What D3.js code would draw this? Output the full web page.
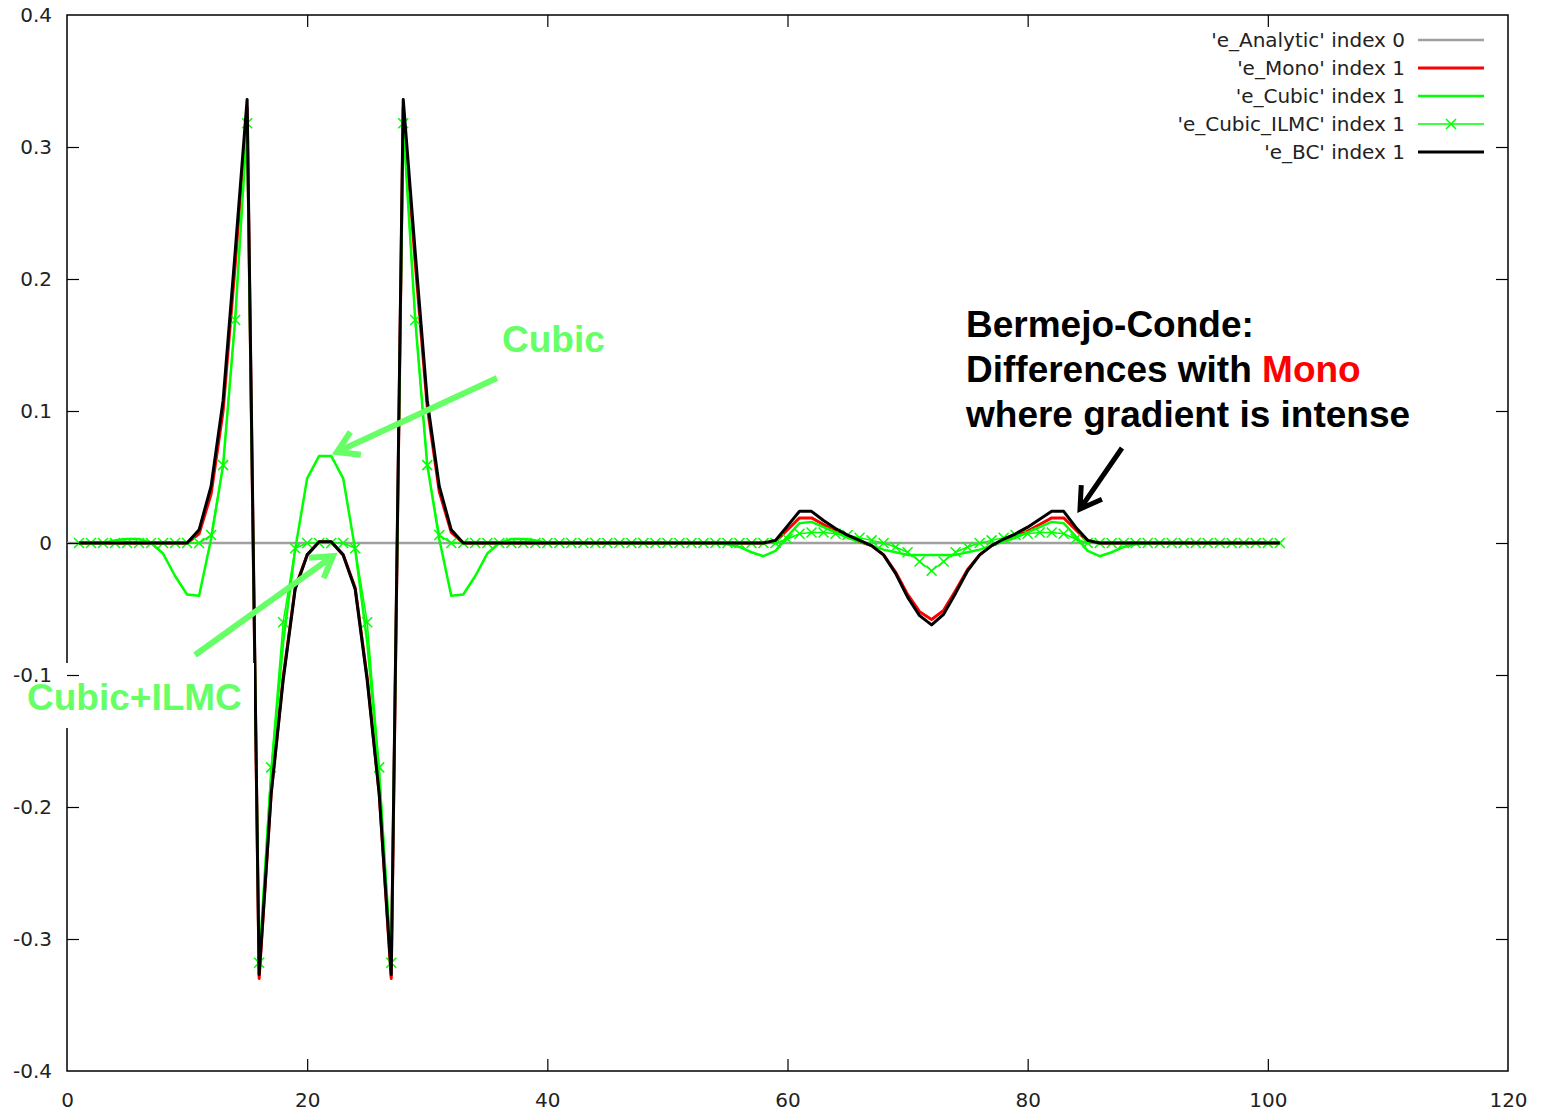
<!DOCTYPE html>
<html>
<head>
<meta charset="utf-8">
<script src="https://cdn.jsdelivr.net/npm/d3@7"></script>
<style>
  body { margin: 0; background: #fff; }
  svg { display: block; }
  .tick-label { font-family: 'DejaVu Sans', sans-serif; font-size: 20px; fill: #222; }
  .note { font-family: 'Liberation Sans', Arial, sans-serif; font-weight: bold; font-size: 37px; }
</style>
</head>
<body>
<div id="chart"></div>
<script>
// x index of every series (grid cells 1..101)
const xIndex = d3.range(1, 102);

// analytic error is zero everywhere (index 0)
const analyticX = [0, 101];
const analyticY = [0, 0];

// 'e_BC' index 1
const eBC = [
  0, 0, 0, 0, 0, 0, 0, 0, 0, 0,
  0.01, 0.043, 0.108, 0.22, 0.336, -0.327, -0.19, -0.104, -0.035, -0.009,
  0.001, 0.001, -0.009, -0.035, -0.104, -0.19, -0.327, 0.336, 0.22, 0.108,
  0.043, 0.01, 0, 0, 0, 0, 0, 0, 0, 0,
  0, 0, 0, 0, 0, 0, 0, 0, 0, 0,
  0, 0, 0, 0, 0, 0, 0, 0, 0.002, 0.013,
  0.024, 0.024, 0.017, 0.011, 0.006, 0.002, -0.002, -0.009, -0.023, -0.041,
  -0.055, -0.062, -0.054, -0.038, -0.021, -0.009, -0.002, 0.003, 0.007, 0.012,
  0.018, 0.024, 0.024, 0.012, 0.002, 0, 0, 0, 0, 0,
  0, 0, 0, 0, 0, 0, 0, 0, 0, 0,
  0
];

// 'e_Mono' index 1
const eMono = [
  0, 0, 0, 0, 0, 0, 0, 0, 0, 0,
  0.007, 0.037, 0.1, 0.21, 0.33, -0.33, -0.19, -0.102, -0.034, -0.009,
  0.001, 0.001, -0.009, -0.034, -0.102, -0.19, -0.33, 0.33, 0.212, 0.103,
  0.039, 0.008, 0, 0, 0, 0, 0, 0, 0, 0,
  0, 0, 0, 0, 0, 0, 0, 0, 0, 0,
  0, 0, 0, 0, 0, 0, 0, 0, 0.001, 0.01,
  0.019, 0.019, 0.014, 0.009, 0.005, 0.001, -0.002, -0.009, -0.022, -0.039,
  -0.052, -0.058, -0.051, -0.036, -0.02, -0.009, -0.002, 0.002, 0.005, 0.009,
  0.014, 0.019, 0.019, 0.01, 0.001, 0, 0, 0, 0, 0,
  0, 0, 0, 0, 0, 0, 0, 0, 0, 0,
  0
];

// 'e_Cubic' index 1
const eCubic = [
  0, 0, 0, 0.002, 0.003, 0.003, 0, -0.008, -0.025, -0.039,
  -0.04, 0.003, 0.059, 0.169, 0.318, -0.318, -0.175, -0.075, -0.005, 0.049,
  0.066, 0.066, 0.049, -0.005, -0.075, -0.175, -0.318, 0.318, 0.169, 0.059,
  0.003, -0.04, -0.039, -0.025, -0.008, 0, 0.003, 0.003, 0.002, 0,
  0, 0, 0, 0, 0, 0, 0, 0, 0, 0,
  0, 0, 0, 0, -0.001, -0.003, -0.007, -0.01, -0.006, 0.005,
  0.015, 0.016, 0.012, 0.008, 0.004, 0.001, -0.002, -0.005, -0.007, -0.009,
  -0.009, -0.009, -0.009, -0.009, -0.007, -0.005, -0.002, 0.001, 0.004, 0.008,
  0.012, 0.016, 0.015, 0.005, -0.006, -0.01, -0.007, -0.003, -0.001, 0,
  0, 0, 0, 0, 0, 0, 0, 0, 0, 0,
  0
];

// 'e_Cubic_ILMC' index 1
const eCubicILMC = [
  0, 0, 0, 0, 0, 0, 0, 0, 0, 0,
  0, 0.006, 0.059, 0.169, 0.318, -0.318, -0.17, -0.06, -0.004, 0,
  0, 0, 0, -0.004, -0.06, -0.17, -0.318, 0.318, 0.169, 0.059,
  0.006, 0, 0, 0, 0, 0, 0, 0, 0, 0,
  0, 0, 0, 0, 0, 0, 0, 0, 0, 0,
  0, 0, 0, 0, 0, 0, 0, 0, 0, 0.003,
  0.007, 0.008, 0.008, 0.007, 0.006, 0.004, 0.002, 0, -0.003, -0.007,
  -0.014, -0.021, -0.014, -0.007, -0.003, 0, 0.002, 0.004, 0.006, 0.007,
  0.008, 0.008, 0.007, 0.003, 0, 0, 0, 0, 0, 0,
  0, 0, 0, 0, 0, 0, 0, 0, 0, 0,
  0
];

const xTicks = [0, 20, 40, 60, 80, 100, 120];
const yTicks = [-0.4, -0.3, -0.2, -0.1, 0, 0.1, 0.2, 0.3, 0.4];

const legendLabels = [
  "'e_Analytic' index 0",
  "'e_Mono' index 1",
  "'e_Cubic' index 1",
  "'e_Cubic_ILMC' index 1",
  "'e_BC' index 1"
];

// dimension stuff
const width = 1542;
const height = 1113;
const margin = { top: 15, right: 34, bottom: 42, left: 67 };

const scaleX = d3.scaleLinear().domain([0, 120]).range([margin.left, width - margin.right]);
const scaleY = d3.scaleLinear().domain([-0.4, 0.4]).range([height - margin.bottom, margin.top]);

const $svg = d3.select('#chart').append('svg')
  .attr('width', width)
  .attr('height', height);

// frame
$svg.append('rect')
  .attr('x', scaleX(0))
  .attr('y', scaleY(0.4))
  .attr('width', scaleX(120) - scaleX(0))
  .attr('height', scaleY(-0.4) - scaleY(0.4))
  .attr('fill', 'none')
  .attr('stroke', '#000')
  .attr('stroke-width', 1.5);

const line = d3.line()
  .x(d => scaleX(d[0]))
  .y(d => scaleY(d[1]));

const toPairs = vals => vals.map((v, i) => [xIndex[i], v]);

const series = [
  { pts: d3.zip(analyticX, analyticY), color: '#a0a0a0', w: 2.5 },
  { pts: toPairs(eMono), color: '#ff0000', w: 3 },
  { pts: toPairs(eCubic), color: '#00ff00', w: 2.5 },
  { pts: toPairs(eCubicILMC), color: '#00ff00', w: 1.5, marks: true },
  { pts: toPairs(eBC), color: '#000000', w: 3 }
];

const $plot = $svg.append('g').attr('class', 'g-vis');

series.forEach(s => {
  $plot.append('path')
    .attr('d', line(s.pts))
    .attr('fill', 'none')
    .attr('stroke', s.color)
    .attr('stroke-width', s.w)
    .attr('stroke-linejoin', 'round');
  if (s.marks) {
    $plot.append('g').selectAll('path')
      .data(s.pts)
      .join('path')
      .attr('d', d => {
        const cx = scaleX(d[0]);
        const cy = scaleY(d[1]);
        return `M${cx - 5},${cy - 5}L${cx + 5},${cy + 5}M${cx - 5},${cy + 5}L${cx + 5},${cy - 5}`;
      })
      .attr('stroke', s.color)
      .attr('stroke-width', 1.5);
  }
});

// white box behind the Cubic+ILMC note (it cuts the axis line)
$svg.append('rect')
  .attr('x', 62).attr('y', 663)
  .attr('width', 192).attr('height', 65)
  .attr('fill', '#fff');

// axes, ticks pointing inward on all four sides
const fmt = d => String(d);

const $yAxis = $svg.append('g')
  .attr('transform', `translate(${scaleX(0)},0)`)
  .call(d3.axisLeft(scaleY).tickValues(yTicks).tickSize(-12).tickPadding(15).tickFormat(fmt));
$svg.append('g')
  .attr('transform', `translate(${scaleX(120)},0)`)
  .call(d3.axisRight(scaleY).tickValues(yTicks.slice(1, -1)).tickSize(-12).tickFormat(''));
const $xAxis = $svg.append('g')
  .attr('transform', `translate(0,${scaleY(-0.4)})`)
  .call(d3.axisBottom(scaleX).tickValues(xTicks).tickSize(-12).tickPadding(22).tickFormat(fmt));
$svg.append('g')
  .attr('transform', `translate(0,${scaleY(0.4)})`)
  .call(d3.axisTop(scaleX).tickValues(xTicks.slice(1, -1)).tickSize(-12).tickFormat(''));

$svg.selectAll('.domain').remove();
$svg.selectAll('.tick line').attr('stroke', '#000').attr('stroke-width', 1.2);
$svg.selectAll('.tick text').attr('class', 'tick-label').attr('font-size', null).attr('font-family', null);
// end ticks sit on the frame corners, keep their labels only
$yAxis.selectAll('.tick').filter(d => d === 0.4 || d === -0.4).select('line').remove();
$xAxis.selectAll('.tick').filter(d => d === 0 || d === 120).select('line').remove();

// legend
const $legend = $svg.append('g').attr('class', 'legend');
legendLabels.forEach((label, i) => {
  const s = series[i];
  const ly = 40 + i * 28;
  $legend.append('text')
    .attr('class', 'tick-label')
    .attr('x', 1405)
    .attr('y', ly)
    .attr('dy', '0.35em')
    .attr('text-anchor', 'end')
    .text(label);
  $legend.append('line')
    .attr('x1', 1418).attr('x2', 1484)
    .attr('y1', ly).attr('y2', ly)
    .attr('stroke', s.color)
    .attr('stroke-width', s.w);
  if (s.marks) {
    $legend.append('path')
      .attr('d', `M1446,${ly - 5}L1456,${ly + 5}M1446,${ly + 5}L1456,${ly - 5}`)
      .attr('stroke', s.color)
      .attr('stroke-width', 1.5);
  }
});

// annotations
function arrow(x1, y1, x2, y2, color, w) {
  const ang = Math.atan2(y1 - y2, x1 - x2);
  const len = 24;
  const a1 = ang + 0.55;
  const a2 = ang - 0.55;
  $svg.append('path')
    .attr('d', `M${x1},${y1}L${x2},${y2}` +
      `M${x2 + len * Math.cos(a1)},${y2 + len * Math.sin(a1)}L${x2},${y2}` +
      `L${x2 + len * Math.cos(a2)},${y2 + len * Math.sin(a2)}`)
    .attr('fill', 'none')
    .attr('stroke', color)
    .attr('stroke-width', w)
    .attr('stroke-linecap', 'butt')
    .attr('stroke-linejoin', 'miter');
}

const noteGreen = '#66ff66';

$svg.append('text').attr('class', 'note').attr('x', 502).attr('y', 352)
  .attr('fill', noteGreen).text('Cubic');
arrow(497, 378, 337, 452, noteGreen, 6);

$svg.append('text').attr('class', 'note').attr('x', 27).attr('y', 710)
  .attr('fill', noteGreen).text('Cubic+ILMC');
arrow(195, 655, 333, 556, noteGreen, 6);

const $bc = $svg.append('text').attr('class', 'note').attr('x', 966).attr('y', 337).attr('fill', '#000');
$bc.append('tspan').attr('x', 966).attr('dy', 0).text('Bermejo-Conde:');
const $l2 = $bc.append('tspan').attr('x', 966).attr('dy', 45);
$l2.append('tspan').text('Differences with ');
$l2.append('tspan').attr('fill', '#ff0000').text('Mono');
$bc.append('tspan').attr('x', 966).attr('dy', 45).text('where gradient is intense');
arrow(1122, 448, 1080, 509, '#000', 5);
</script>
</body>
</html>
